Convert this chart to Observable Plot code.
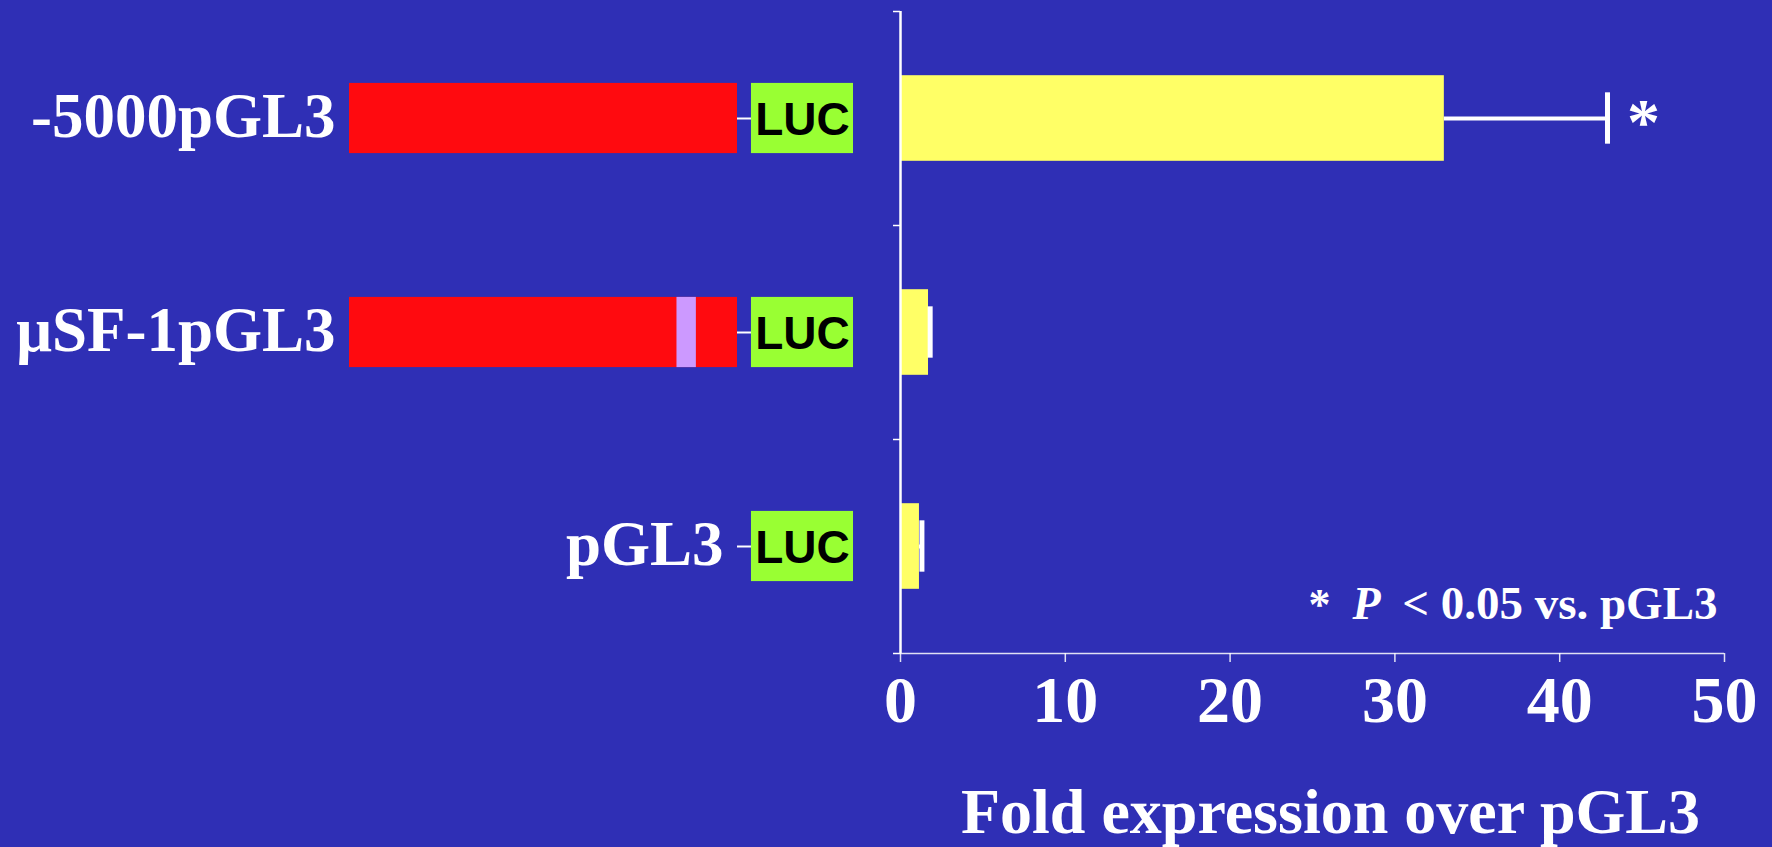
<!DOCTYPE html>
<html><head><meta charset="utf-8">
<script src="https://cdn.jsdelivr.net/npm/d3@7"></script>
<script src="https://cdn.jsdelivr.net/npm/@observablehq/plot@0.6"></script>
<style>
html,body{margin:0;padding:0;background:#2f2fb5;}
#chart{position:relative;width:1772px;height:847px;background:#2f2fb5;overflow:hidden;}
#chart svg{position:absolute;left:0;top:0;}
</style></head><body><div id="chart"></div>
<script>
// ---- data ----
const constructs = ["-5000pGL3", "\u03BCSF-1pGL3", "pGL3"];
const foldMean = [33.0, 1.7, 1.15];
const foldUpper = [42.9, 1.8, 1.3];
const significant = [true, false, false];
// schematic construct map (bp relative to start site)
const promoterStart = [-5000, -5000, 0];
const promoterEnd = [0, 0, 0];
const mutationStart = [null, -780, null];
const mutationEnd = [null, -530, null];
const lucStart = [180, 180, 180];
const lucEnd = [1495, 1495, 1495];
const lucLabel = "LUC";
const xTicks = [0, 10, 20, 30, 40, 50];
const xLabel = "Fold expression over pGL3";
const noteStar = "*", noteP = "P", noteRest = "< 0.05 vs. pGL3";

const rows = constructs.map((name, i) => ({
  name, i,
  mean: foldMean[i], upper: foldUpper[i], sig: significant[i],
  pStart: promoterStart[i], pEnd: promoterEnd[i],
  mStart: mutationStart[i], mEnd: mutationEnd[i],
  lStart: lucStart[i], lEnd: lucEnd[i]
}));

const serif = "'Liberation Serif','Times New Roman',Times,serif";
const sans = "'Liberation Sans',Arial,Helvetica,sans-serif";
const W = 1772, H = 847;
const MT = 11, MB = 194;
const baseStyle = {background: "transparent", color: "white", fontFamily: serif, fontWeight: "bold", overflow: "visible"};
const cy = d => d.i + 0.5;

const right = Plot.plot({
  width: W, height: H,
  marginLeft: 900, marginRight: 48, marginTop: MT, marginBottom: MB,
  style: baseStyle,
  x: {domain: [0, 50]},
  y: {domain: [0, 3], reverse: true},
  marks: [
    Plot.rectX(rows, {x1: 0, x2: "mean", y1: d => d.i + 0.3, y2: d => d.i + 0.7, fill: "#ffff66"}),
    Plot.ruleY(rows, {y: cy, x1: "mean", x2: "upper", stroke: "white", strokeWidth: 4}),
    Plot.ruleX(rows, {x: "upper", y1: d => d.i + 0.38, y2: d => d.i + 0.62, stroke: "white", strokeWidth: 5}),
    Plot.text(rows.filter(d => d.sig), {x: "upper", y: cy, text: () => noteStar, dx: 36, dy: 4, fontSize: 66, fill: "white"}),
    Plot.ruleX([0], {stroke: "white", strokeWidth: 2.5}),
    Plot.ruleY([3], {stroke: "white", strokeWidth: 1.5, strokeOpacity: 0.85}),
    Plot.axisY({ticks: [0, 1, 2, 3], tickSize: 7, tickFormat: () => "", stroke: "white", strokeWidth: 1.5, label: null}),
    Plot.axisX({ticks: xTicks, tickSize: 9, tickPadding: 13, fontSize: 66, label: null, stroke: "white", strokeWidth: 1.5, strokeOpacity: 0.85}),
    Plot.text([xLabel], {frameAnchor: "bottom", lineAnchor: "bottom", dy: 179, dx: 18, fontSize: 64, text: d => d, fill: "white"}),
    Plot.text([noteRest], {frameAnchor: "bottom-right", textAnchor: "end", lineAnchor: "bottom", dx: -7, dy: -35, fontSize: 47, text: d => d, fill: "white"}),
    Plot.text([noteP], {frameAnchor: "bottom-right", textAnchor: "middle", lineAnchor: "bottom", dx: -358, dy: -35, fontSize: 46, fontStyle: "italic", text: d => d, fill: "white"}),
    Plot.text([noteStar], {frameAnchor: "bottom-right", textAnchor: "middle", lineAnchor: "bottom", dx: -405, dy: -35, fontSize: 44, text: d => d, fill: "white"})
  ]
});

const half = 0.164;
const left = Plot.plot({
  width: W, height: H,
  marginTop: MT, marginBottom: MB,
  style: baseStyle,
  x: {domain: [-5000, 0], range: [349, 737], axis: null},
  y: {domain: [0, 3], reverse: true, axis: null},
  marks: [
    Plot.ruleY(rows, {y: cy, x1: "pEnd", x2: "lStart", stroke: "white", strokeWidth: 2}),
    Plot.rectX(rows.filter(d => d.pStart < d.pEnd), {x1: "pStart", x2: "pEnd", y1: d => cy(d) - half, y2: d => cy(d) + half, fill: "#ff0a0f"}),
    Plot.rectX(rows.filter(d => d.mStart != null), {x1: "mStart", x2: "mEnd", y1: d => cy(d) - half, y2: d => cy(d) + half, fill: "#cc99ff"}),
    Plot.rectX(rows, {x1: "lStart", x2: "lEnd", y1: d => cy(d) - half, y2: d => cy(d) + half, fill: "#99ff33"}),
    Plot.text(rows, {x: d => (d.lStart + d.lEnd) / 2, y: cy, text: () => lucLabel, fontFamily: sans, fontWeight: "bold", fontSize: 46, fill: "black", dy: 2}),
    Plot.text(rows, {x: "pStart", y: cy, text: "name", textAnchor: "end", dx: -14, dy: -2, fontSize: 63, fill: "white"})
  ]
});

const chart = document.getElementById("chart");
chart.appendChild(left);
chart.appendChild(right);
</script>
</body></html>
